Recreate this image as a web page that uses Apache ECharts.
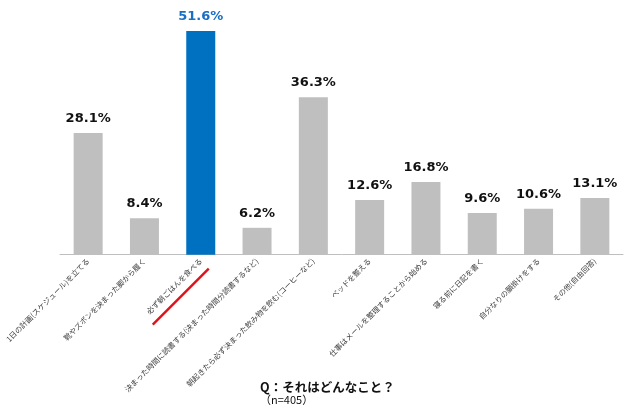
<!DOCTYPE html>
<html><head><meta charset="utf-8">
<script src="https://cdn.jsdelivr.net/npm/echarts@6/dist/echarts.min.js"></script>
<style>html,body{margin:0;padding:0;background:#fff}#c{width:640px;height:412px}</style>
</head><body><div id="c"></div>
<script>
var categories = [
  '1日の計画(スケジュール)を立てる',
  '靴やズボンを決まった脚から履く',
  '必ず朝ごはんを食べる',
  '決まった時間に読書する(決まった時間分読書するなど)',
  '朝起きたら必ず決まった飲み物を飲む(コーヒーなど)',
  'ベッドを整える',
  '仕事はメールを整理することから始める',
  '寝る前に日記を書く',
  '自分なりの願掛けをする',
  'その他(自由回答)'
];
var values = [28.1, 8.4, 51.6, 6.2, 36.3, 12.6, 16.8, 9.6, 10.6, 13.1];
var highlightIndex = 2;
var titleText = 'Q：それはどんなこと？';
var subText = '（n=405）';

var chart = echarts.init(document.getElementById('c'));
var data = values.map(function (v, i) {
  var hl = i === highlightIndex;
  return {
    value: v,
    itemStyle: { color: hl ? '#0070c0' : '#bfbfbf' },
    label: { color: hl ? '#1a6fc4' : '#111' }
  };
});
chart.setOption({
  animation: false,
  grid: { left: 60, right: 17, top: 16.3, bottom: 157.3 },
  title: {
    text: titleText, subtext: subText, left: 255, top: 376, itemGap: 1,
    textStyle: { fontFamily: 'Noto Sans CJK JP', fontWeight: 'bold', fontSize: 12.5, color: '#111' },
    subtextStyle: { fontFamily: 'Noto Sans CJK JP', fontSize: 11, color: '#111' }
  },
  xAxis: {
    type: 'category', data: categories,
    axisLine: { lineStyle: { color: '#bfbfbf' } },
    axisTick: { length: 3, lineStyle: { color: '#bfbfbf' } },
    axisLabel: { rotate: 45, interval: 0, fontSize: 7.5, color: '#404040', margin: 5,
      fontFamily: 'Noto Sans CJK JP' }
  },
  yAxis: { type: 'value', min: 0, max: 55, show: false, splitLine: { show: false } },
  series: [{
    type: 'bar', data: data, barWidth: 29,
    label: { show: true, position: 'top', distance: 8, fontSize: 13, fontWeight: 'bold',
      fontFamily: 'DejaVu Sans', formatter: function (p) { return p.value.toFixed(1) + '%'; } }
  }]
});
var base = chart.convertToPixel({ xAxisIndex: 0, yAxisIndex: 0 }, [highlightIndex, 0]);
chart.setOption({
  graphic: [{
    type: 'line',
    shape: { x1: base[0] - 48, y1: base[1] + 70, x2: base[0] + 8, y2: base[1] + 14 },
    style: { stroke: '#d9141b', lineWidth: 2.5 }
  }]
});
</script></body></html>
